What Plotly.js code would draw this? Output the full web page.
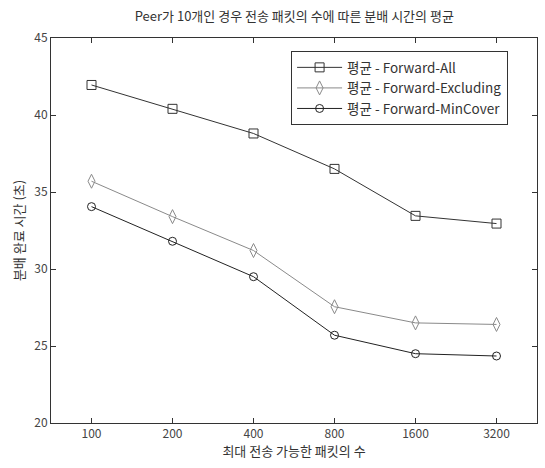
<!DOCTYPE html>
<html><head><meta charset="utf-8">
<script src="https://cdn.plot.ly/plotly-3.0.1.min.js"></script>
<style>html,body{margin:0;padding:0;background:#fff}#chart{width:545px;height:468px}</style>
</head><body><div id="chart"></div>
<script>
const categories = ['100','200','400','800','1600','3200'];
const seriesNames = ['평균 - Forward-All','평균 - Forward-Excluding','평균 - Forward-MinCover'];
const forwardAll = [41.95, 40.4, 38.8, 36.5, 33.45, 32.95];
const forwardExcluding = [35.7, 33.4, 31.2, 27.55, 26.5, 26.4];
const forwardMinCover = [34.05, 31.8, 29.5, 25.7, 24.5, 24.35];
const yTicks = [20,25,30,35,40,45];

const font = "'Noto Sans CJK KR', 'Noto Sans', sans-serif";
function tr(y, name, color, symbol, size){
  return {x: categories, y: y, name: name, type:'scatter', mode:'lines+markers',
    line:{color:color, width:1},
    marker:{symbol:symbol, size:size, color:color, line:{color:color, width:1}}};
}
const data = [
  tr(forwardAll, seriesNames[0], '#333333', 'square-open', 9),
  tr(forwardExcluding, seriesNames[1], '#8a8a8a', 'diamond-tall-open', 10),
  tr(forwardMinCover, seriesNames[2], '#222222', 'circle-open', 8)
];
const axisCommon = {showline:true, linecolor:'#333', linewidth:1, mirror:'ticks', ticks:'inside',
  ticklen:5, tickcolor:'#333', showgrid:false, zeroline:false,
  tickfont:{family:font, size:12, color:'#444'}};
const layout = {
  width:545, height:468,
  margin:{l:51, r:8, t:38, b:45},
  paper_bgcolor:'#fff', plot_bgcolor:'#fff',
  title:{text:'Peer가 10개인 경우 전송 패킷의 수에 따른 분배 시간의 평균', font:{family:font, size:13, color:'#333'}, x:0.54, xanchor:'center', y:0.965, yanchor:'middle'},
  xaxis:Object.assign({}, axisCommon, {type:'category', range:[-0.5,5.5],
    title:{text:'최대 전송 가능한 패킷의 수', font:{family:font, size:13, color:'#333'}, standoff:2}}),
  yaxis:Object.assign({}, axisCommon, {range:[20,45], tickvals:yTicks,
    title:{text:'분배 완료 시간 (초)', font:{family:font, size:13, color:'#333'}, standoff:6}}),
  showlegend:true,
  legend:{x:0.494, y:0.966, xanchor:'left', yanchor:'top', bgcolor:'#fff', bordercolor:'#333', borderwidth:1,
    font:{family:font, size:13.5, color:'#333'}, tracegroupgap:0, itemwidth:45}
};
Plotly.newPlot('chart', data, layout, {displayModeBar:false, staticPlot:true});
</script></body></html>
